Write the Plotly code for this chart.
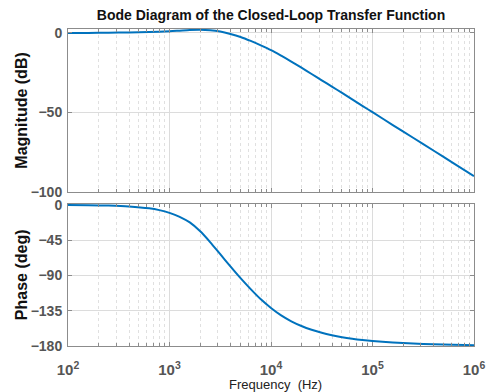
import plotly.graph_objects as go

# Frequency points (log10 of Hz) and values
log_freq = [2.0, 2.2, 2.4, 2.6, 2.8, 3.0, 3.1, 3.2, 3.3, 3.4, 3.5, 3.6, 3.7, 3.8, 3.9,
            4.0, 4.1, 4.2, 4.3, 4.4, 4.5, 4.6, 4.7, 4.8, 4.9, 5.0, 5.2, 5.4, 5.6, 5.8, 6.0]
magnitude_db = [0.0, 0.05, 0.15, 0.35, 0.65, 1.1, 1.45, 1.8, 1.95, 1.7, 0.9, -0.6, -2.5, -5.0,
                -7.8, -10.8, -14.3, -18.0, -21.85, -25.8, -29.75, -33.7, -37.7, -41.7, -45.8,
                -49.8, -57.9, -65.9, -73.9, -82.0, -90.0]

phase_log_freq = [2.0, 2.2, 2.4, 2.6, 2.8, 2.9, 3.0, 3.1, 3.2, 3.3, 3.4, 3.5, 3.6, 3.7, 3.8,
                  3.9, 4.0, 4.1, 4.2, 4.3, 4.4, 4.5, 4.6, 4.7, 4.8, 4.9, 5.0, 5.2, 5.4, 5.6,
                  5.8, 6.0]
phase_deg = [-0.3, -0.5, -1.0, -2.1, -4.5, -6.8, -10.3, -15.3, -22.5, -33.5, -47.5, -63, -78.5,
             -93.5, -107.5, -120.5, -131.5, -141, -148.5, -154.5, -159.3, -163.2, -166.3,
             -168.8, -170.8, -172.4, -173.7, -175.6, -176.9, -177.8, -178.4, -178.9]

x_tick_vals = [100, 1000, 10000, 100000, 1000000]
x_tick_text = ["10<sup>2</sup>", "10<sup>3</sup>", "10<sup>4</sup>", "10<sup>5</sup>", "10<sup>6</sup>"]
mag_ticks = [0, -50, -100]
phase_ticks = [0, -45, -90, -135, -180]

freq_mag = [10 ** v for v in log_freq]
freq_phase = [10 ** v for v in phase_log_freq]
minor_vals = [m * 10 ** d for d in range(2, 6) for m in range(2, 10)]

line_color = "#0072BD"
axis_color = "#8c8c8c"
font_family = "Liberation Sans, Arial"
x_tick_font = dict(family=font_family, size=15, color="#555555", weight="bold")
y_tick_font = dict(family=font_family, size=14, color="#555555", weight="bold")

# page body adds an 8px offset; figure is sized so it fits the 497x392 window
W, H = 489, 384
OFF = 8
plot_left, plot_right, plot_top, plot_bottom = 68 - OFF, 484 - OFF, 29 - OFF, 346 - OFF
pw = plot_right - plot_left
ph = plot_bottom - plot_top

fig = go.Figure()
fig.add_trace(go.Scatter(x=freq_mag, y=magnitude_db, mode="lines",
                         line=dict(color=line_color, width=2, shape="spline", smoothing=0.8),
                         xaxis="x", yaxis="y", showlegend=False))
fig.add_trace(go.Scatter(x=freq_phase, y=phase_deg, mode="lines",
                         line=dict(color=line_color, width=2, shape="spline", smoothing=0.8),
                         xaxis="x2", yaxis="y2", showlegend=False))

common_x = dict(type="log", range=[2, 6], tickvals=x_tick_vals, ticks="inside", ticklen=4,
                tickcolor=axis_color, showline=True, linecolor=axis_color, linewidth=1,
                mirror="ticks", showgrid=True, gridcolor="#dcdcdc", gridwidth=1,
                minor=dict(tickvals=minor_vals, showgrid=True, gridcolor="#e0e0e0",
                           griddash="dot", ticks="inside", ticklen=3, tickcolor=axis_color),
                zeroline=False)

fig.update_layout(
    width=W, height=H,
    margin=dict(l=plot_left, r=W - plot_right, t=plot_top, b=H - plot_bottom),
    paper_bgcolor="white", plot_bgcolor="white",
    title=dict(text="<b>Bode Diagram of the Closed-Loop Transfer Function</b>",
               x=0.5, xref="paper", xanchor="center", y=1 - (15 - OFF) / H, yref="container",
               yanchor="middle", font=dict(family=font_family, size=14, color="#111111")),
    xaxis=dict(**common_x, anchor="y", showticklabels=False, matches="x2"),
    xaxis2=dict(**common_x, anchor="y2", ticktext=x_tick_text, tickfont=x_tick_font,
                ticklabelstandoff=10),
    yaxis=dict(domain=[(346 - 192) / ph, 1.0], range=[-100, 2.5], tickvals=mag_ticks,
               ticks="inside", ticklen=4, tickcolor=axis_color, showline=True,
               linecolor=axis_color, mirror="ticks", showgrid=True, gridcolor="#dcdcdc",
               zeroline=False, tickfont=y_tick_font, ticklabelstandoff=2),
    yaxis2=dict(domain=[0.0, (346 - 204) / ph], range=[-180, 1], tickvals=phase_ticks,
                ticks="inside", ticklen=4, tickcolor=axis_color, showline=True,
                linecolor=axis_color, mirror="ticks", showgrid=True, gridcolor="#dcdcdc",
                zeroline=False, tickfont=y_tick_font, ticklabelstandoff=2),
    annotations=[
        dict(text="<b>Magnitude (dB)</b>", xref="paper", yref="paper", x=(20 - 68) / pw,
             y=(346 - 110.5) / ph, xanchor="center", yanchor="middle", textangle=-90,
             showarrow=False, font=dict(family=font_family, size=16, color="#111111")),
        dict(text="<b>Phase (deg)</b>", xref="paper", yref="paper", x=(20 - 68) / pw,
             y=(346 - 275) / ph, xanchor="center", yanchor="middle", textangle=-90,
             showarrow=False, font=dict(family=font_family, size=16, color="#111111")),
        dict(text="Frequency  (Hz)", xref="paper", yref="paper", x=(281 - 68) / pw,
             y=(346 - 385) / ph, xanchor="center", yanchor="middle", showarrow=False,
             font=dict(family=font_family, size=13, color="#222222")),
    ],
)

fig.write_html("out.html")
